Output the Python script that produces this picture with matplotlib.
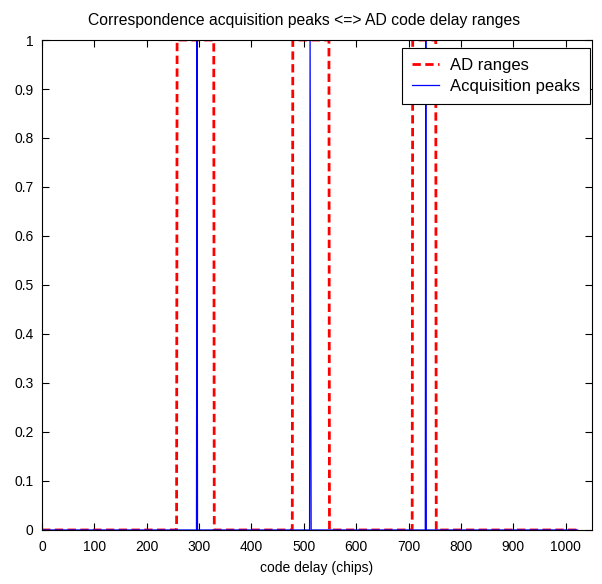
import numpy as np
import matplotlib
matplotlib.use('Agg')
import matplotlib.pyplot as plt

# AD code delay ranges (start, end) in chips
ad_ranges = [(258, 328), (479, 548), (708, 752)]
# acquisition peaks: code delay and normalized height
peak_delays = [296, 512, 513, 733]
peak_values = [1.0, 1.0, 0.5, 1.0]
n_chips = 1023

plt.rcParams['font.family'] = ['Liberation Sans', 'DejaVu Sans']
plt.rcParams['font.size'] = 10

delay = np.arange(n_chips + 1)
ad = np.zeros(len(delay))
for start, end in ad_ranges:
    ad[(delay >= start) & (delay <= end)] = 1
peaks = np.zeros(len(delay))
for d, v in zip(peak_delays, peak_values):
    peaks[d] = v

fig = plt.figure(figsize=[6.02, 5.84], dpi=100)
ax = fig.add_axes([0.0698, 0.0925, 0.9132, 0.839])

ax.plot(delay, ad, 'r--', lw=2, dashes=(3, 1.6), label='AD ranges')
ax.plot(delay, peaks, 'b-', lw=0.9, label='Acquisition peaks')

ax.set_xlim(0, 1050)
ax.set_ylim(0, 1)
ax.set_xticks(np.arange(0, 1001, 100))
ax.set_yticks(np.arange(0, 1.01, 0.1))
ax.set_yticklabels(['0', '0.1', '0.2', '0.3', '0.4', '0.5', '0.6', '0.7', '0.8', '0.9', '1'])
ax.tick_params(direction='in', top=True, right=True, length=5, width=0.8)
ax.tick_params(axis='x', pad=7)
ax.tick_params(axis='y', pad=6)
for s in ax.spines.values():
    s.set_linewidth(0.8)

ax.set_title('Correspondence acquisition peaks <=> AD code delay ranges', pad=11,
             fontsize=11.3, x=0.476)
ax.set_xlabel('code delay (chips)', labelpad=5)

leg = ax.legend(loc='upper right', bbox_to_anchor=(0.997, 0.984), fancybox=False,
                edgecolor='black', framealpha=1, borderpad=0.6, labelspacing=0.35,
                handlelength=1.65, handletextpad=0.65, borderaxespad=0, fontsize=12)
leg.get_frame().set_linewidth(0.8)

fig.savefig('out.png', dpi=100)
